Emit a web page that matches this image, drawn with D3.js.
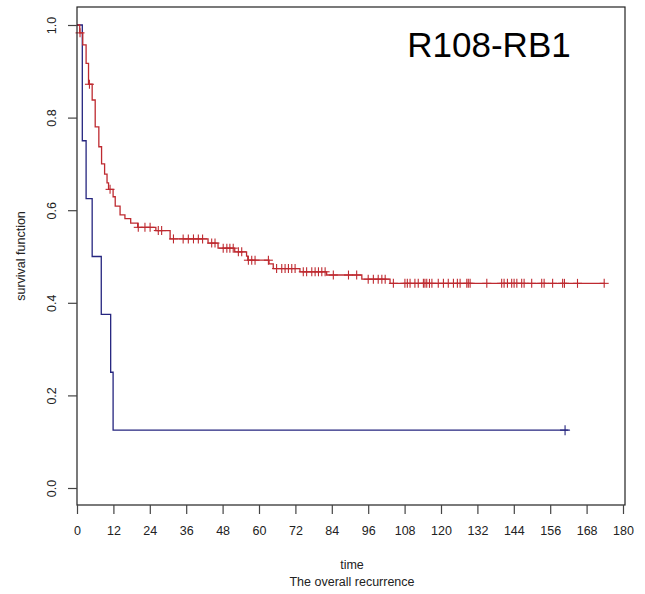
<!DOCTYPE html>
<html>
<head>
<meta charset="utf-8">
<script src="https://cdn.jsdelivr.net/npm/d3@7"></script>
<style>
  body { margin: 0; background: #fff; }
  svg { display: block; }
  text { font-family: "Liberation Sans", Arial, sans-serif; }
</style>
</head>
<body>
<svg id="chart" width="645" height="594"></svg>
<script>
// ---- data ----
const title = "R108-RB1";
const xLabel = "time";
const subLabel = "The overall recurrence";
const yLabel = "survival function";
const xTicks = [0, 12, 24, 36, 48, 60, 72, 84, 96, 108, 120, 132, 144, 156, 168, 180];
const yTicks = [0.0, 0.2, 0.4, 0.6, 0.8, 1.0];

// high group (red): step times and survival after each step
const redTimes = [0, 0.9, 1.9, 3.0, 3.8, 5.0, 6.0, 7.2, 8.1, 9.1, 9.9, 10.4, 11.9, 12.6, 14.2, 15.8, 17.7, 20.0, 26.0, 30.7, 43.2, 46.5, 52.0, 55.9, 56.3, 63.3, 64.7, 73.5, 82.3, 93.9, 103.2];
const redSurv  = [1.0, 0.983, 0.957, 0.917, 0.872, 0.838, 0.780, 0.737, 0.700, 0.678, 0.659, 0.645, 0.629, 0.609, 0.590, 0.582, 0.572, 0.563, 0.556, 0.538, 0.529, 0.518, 0.510, 0.501, 0.492, 0.484, 0.474, 0.467, 0.460, 0.451, 0.442];
const redEnd = 174;
const redCensor = [1.0, 4.1, 10.9, 20.2, 22.4, 24.1, 26.8, 27.9, 31.8, 35.0, 36.7, 38.4, 40.0, 41.4, 44.4, 45.5, 48.2, 49.4, 50.4, 51.5, 53.2, 54.3, 56.5, 57.6, 58.7, 63.1, 65.8, 67.5, 68.6, 69.7, 70.8, 71.9, 74.6, 75.7, 77.4, 78.5, 79.6, 80.7, 81.8, 84.5, 89.5, 92.2, 96.0, 97.7, 99.3, 100.5, 101.6, 104.3, 108.1, 108.9, 109.8, 111.4, 112.5, 114.2, 114.7, 115.3, 116.2, 117.0, 119.1, 120.8, 122.4, 124.1, 125.4, 126.3, 128.5, 129.0, 129.6, 135.1, 140.0, 140.8, 141.9, 143.3, 144.1, 145.0, 146.6, 147.4, 149.9, 153.2, 154.0, 156.8, 160.1, 160.7, 165.0, 173.8];

// low group (blue)
const blueTimes = [0, 1.75, 3.0, 5.0, 8.0, 11.1, 11.9];
const blueSurv  = [1.0, 0.75, 0.625, 0.5, 0.375, 0.25, 0.125];
const blueEnd = 162;
const blueCensor = [160.9];

// ---- layout ----
const svg = d3.select("#chart");
svg.append("rect").attr("width", 645).attr("height", 594).attr("fill", "#fff");

const x = d3.scaleLinear().domain([0, 180]).range([77, 623]);
const y = d3.scaleLinear().domain([0, 1]).range([488, 25]);
const boxL = 77, boxR = 625, boxT = 7, boxB = 505;
const redColor = "#be2a30", blueColor = "#25257f";

function stepData(times, surv, end) {
  const pts = times.map((t, i) => [t, surv[i]]);
  pts.push([end, surv[surv.length - 1]]);
  return pts;
}
function survAt(times, surv, t) {
  let s = surv[0];
  for (let i = 0; i < times.length; i++) if (times[i] <= t) s = surv[i];
  return s;
}

const line = d3.line().x(d => x(d[0])).y(d => y(d[1])).curve(d3.curveStepAfter);

// curves
svg.append("path").datum(stepData(blueTimes, blueSurv, blueEnd))
  .attr("d", line).attr("fill", "none").attr("stroke", blueColor).attr("stroke-width", 1.3);
svg.append("path").datum(stepData(redTimes, redSurv, redEnd))
  .attr("d", line).attr("fill", "none").attr("stroke", redColor).attr("stroke-width", 1.3);

function drawCensor(times, surv, list, color, half) {
  const g = svg.append("g").attr("stroke", color).attr("stroke-width", 1.1);
  list.forEach(t => {
    const cx = x(t), cy = y(survAt(times, surv, t));
    g.append("line").attr("x1", cx).attr("x2", cx).attr("y1", cy - half).attr("y2", cy + half);
    g.append("line").attr("x1", cx - half).attr("x2", cx + half).attr("y1", cy).attr("y2", cy);
  });
}
drawCensor(blueTimes, blueSurv, blueCensor, blueColor, 5);
drawCensor(redTimes, redSurv, redCensor, redColor, 4.5);

// box
svg.append("rect").attr("x", boxL).attr("y", boxT).attr("width", boxR - boxL).attr("height", boxB - boxT)
  .attr("fill", "none").attr("stroke", "#222").attr("stroke-width", 1.2);

// x axis
const xAxis = svg.append("g").attr("transform", `translate(0,${boxB})`)
  .call(d3.axisBottom(x).tickValues(xTicks).tickSize(9).tickSizeOuter(0).tickFormat(d3.format("d")));
xAxis.select(".domain").remove();
xAxis.selectAll(".tick line").attr("stroke", "#444").attr("stroke-width", 1.2);
xAxis.selectAll(".tick text").attr("y", 21).attr("dy", "0.71em")
  .attr("font-size", 12.5).attr("fill", "#222").attr("font-family", "Liberation Sans, Arial, sans-serif");

// y axis
const yAxis = svg.append("g").attr("transform", `translate(${boxL},0)`)
  .call(d3.axisLeft(y).tickValues(yTicks).tickSize(9).tickSizeOuter(0).tickFormat(d3.format(".1f")));
yAxis.select(".domain").remove();
yAxis.selectAll(".tick line").attr("stroke", "#444").attr("stroke-width", 1.2);
yAxis.selectAll(".tick text").attr("x", 0).attr("dy", "0.35em")
  .attr("transform", "translate(-25,0) rotate(-90)").attr("text-anchor", "middle")
  .attr("font-size", 12.5).attr("fill", "#222").attr("font-family", "Liberation Sans, Arial, sans-serif");

// labels
svg.append("text").attr("x", 352).attr("y", 569).attr("text-anchor", "middle")
  .attr("font-size", 12.5).attr("fill", "#222").text(xLabel);
svg.append("text").attr("x", 352).attr("y", 586).attr("text-anchor", "middle")
  .attr("font-size", 12.5).attr("fill", "#222").text(subLabel);
svg.append("text").attr("transform", "translate(25,256) rotate(-90)").attr("text-anchor", "middle")
  .attr("font-size", 12.5).attr("fill", "#222").text(yLabel);

// title
svg.append("text").attr("x", 489).attr("y", 57).attr("text-anchor", "middle")
  .attr("font-size", 35).attr("fill", "#000").attr("font-family", "Lato, 'Open Sans', sans-serif")
  .text(title);
</script>
</body>
</html>
